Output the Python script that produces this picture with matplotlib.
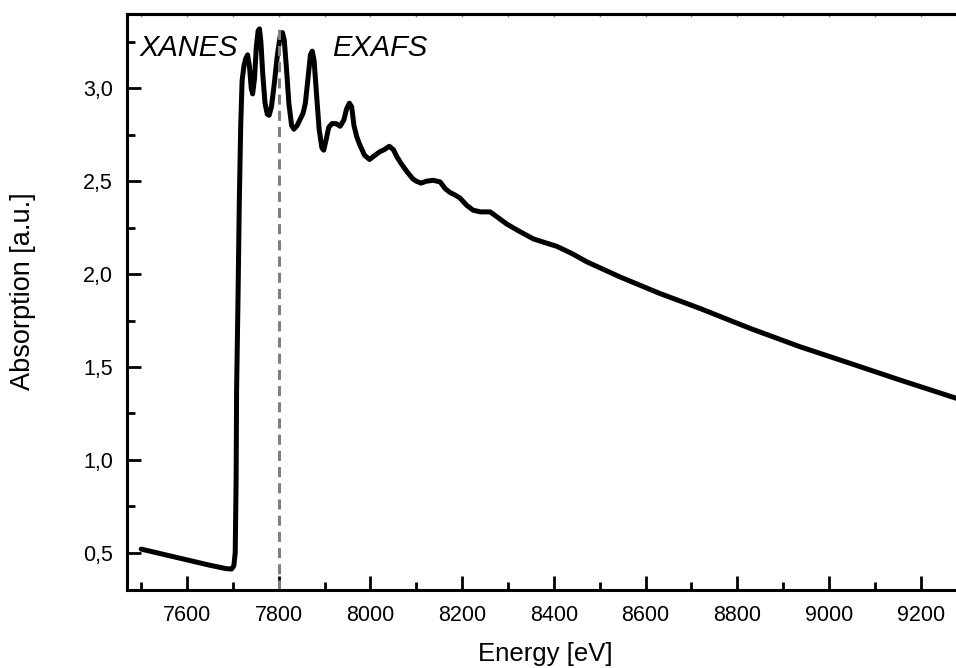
import numpy as np
import matplotlib
matplotlib.use("Agg")
import matplotlib.pyplot as plt
from matplotlib.ticker import MultipleLocator, FuncFormatter

plt.rcParams['font.family'] = ['Liberation Sans', 'DejaVu Sans']

# X-ray absorption spectrum (energy in eV, absorption in a.u.)
energy = [7500, 7550, 7600, 7650, 7685, 7697, 7702, 7705, 7707, 7708, 7711, 7714,
          7717, 7720, 7724, 7728, 7732, 7736, 7740, 7743, 7747, 7751, 7755, 7758,
          7761, 7765, 7770, 7775, 7779, 7784, 7790, 7797, 7803, 7808, 7812, 7817,
          7822, 7828, 7833, 7840, 7848, 7853, 7858, 7864, 7869, 7873, 7877, 7882,
          7888, 7894, 7898, 7903, 7909, 7916, 7925, 7934, 7942, 7948, 7954, 7959,
          7964, 7970, 7976, 7987, 7998, 8010, 8020, 8030, 8041, 8050, 8058, 8067,
          8080, 8092, 8100, 8110, 8122, 8137, 8152, 8163, 8173, 8185, 8195, 8210,
          8224, 8240, 8261, 8275, 8297, 8325, 8355, 8380, 8406, 8440, 8472, 8544,
          8631, 8719, 8828, 8937, 9046, 9155, 9280]
absorption = [0.52, 0.491, 0.462, 0.433, 0.415, 0.413, 0.43, 0.50, 0.90, 1.37, 1.85, 2.40,
              2.80, 3.04, 3.12, 3.16, 3.18, 3.12, 3.00, 2.97, 3.05, 3.22, 3.31, 3.32,
              3.25, 3.08, 2.92, 2.86, 2.855, 2.90, 3.02, 3.18, 3.28, 3.30, 3.26, 3.10,
              2.92, 2.80, 2.78, 2.80, 2.84, 2.866, 2.92, 3.06, 3.18, 3.20, 3.15, 2.98,
              2.78, 2.68, 2.667, 2.72, 2.79, 2.81, 2.81, 2.796, 2.83, 2.89, 2.92, 2.90,
              2.80, 2.74, 2.70, 2.64, 2.617, 2.64, 2.658, 2.67, 2.688, 2.67, 2.63, 2.595,
              2.55, 2.514, 2.50, 2.49, 2.50, 2.505, 2.496, 2.46, 2.44, 2.425, 2.41, 2.37,
              2.344, 2.335, 2.335, 2.31, 2.27, 2.23, 2.19, 2.17, 2.15, 2.11, 2.066, 1.985,
              1.896, 1.815, 1.708, 1.609, 1.52, 1.43, 1.33]

split_energy = 7800  # XANES / EXAFS boundary
region_labels = ['XANES', 'EXAFS']

fig = plt.figure(figsize=(9.56, 6.68), dpi=100)
ax = fig.add_axes([127 / 956, 78 / 668, 1 - 127 / 956, 576 / 668])

ax.plot(energy, absorption, color='black', lw=3.6, solid_joinstyle='round',
        solid_capstyle='round')
ax.vlines(split_energy, 0.3, 3.345, colors='#7f7f7f', linestyles=(0, (3.3, 2.0)), lw=2.2)

ax.text(7497, 3.215, region_labels[0], fontsize=21, style='italic', va='center', ha='left')
ax.text(7916, 3.215, region_labels[1], fontsize=21, style='italic', va='center', ha='left')

ax.set_xlim(7469, 9277)
ax.set_ylim(0.3, 3.4)

ax.xaxis.set_major_locator(MultipleLocator(200))
ax.xaxis.set_minor_locator(MultipleLocator(100))
ax.yaxis.set_major_locator(MultipleLocator(0.5))
ax.yaxis.set_minor_locator(MultipleLocator(0.25))
ax.yaxis.set_major_formatter(FuncFormatter(lambda v, p: f'{v:.1f}'.replace('.', ',')))

ax.tick_params(axis='both', which='both', direction='in', width=2, labelsize=15.5)
ax.tick_params(axis='both', which='major', length=10)
ax.tick_params(axis='both', which='minor', length=6)
ax.tick_params(axis='x', which='both', top=False, pad=11)
ax.tick_params(axis='y', pad=10)

# faint little ticks along the top edge
top = ax.secondary_xaxis('top')
top.xaxis.set_major_locator(MultipleLocator(100))
top.tick_params(direction='in', length=2.5, width=1, color='#8a8a8a', labeltop=False)
top.spines['top'].set_linewidth(2.2)

ax.spines['right'].set_visible(False)
for s in ['left', 'bottom', 'top']:
    ax.spines[s].set_linewidth(2.2)

ax.set_xlabel('Energy [eV]', fontsize=18.5, va='center')
ax.set_ylabel('Absorption [a.u.]', fontsize=19.5, va='center')
ax.xaxis.set_label_coords((545 - 127) / 829, (590 - 654) / 576)
ax.yaxis.set_label_coords((23 - 127) / 829, (590 - 291) / 576)

fig.savefig('out.png', dpi=100)
